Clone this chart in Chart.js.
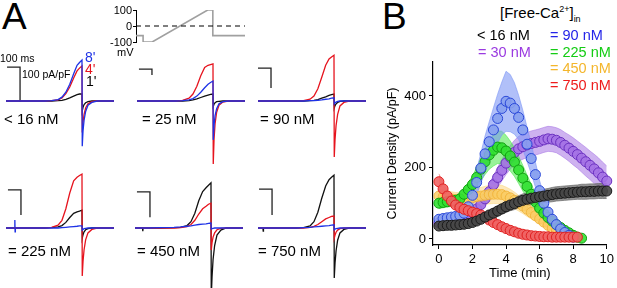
<!DOCTYPE html>
<html>
<head>
<meta charset="utf-8">
<script src="https://cdn.jsdelivr.net/npm/chart.js@4.4.1/dist/chart.umd.min.js"></script>
<style>
body{margin:0;background:#fff;font-family:"Liberation Sans",Arial,sans-serif;}
#wrap{position:relative;width:617px;height:288px;overflow:hidden;background:#fff;}
canvas,.t{position:absolute;}
.t{white-space:nowrap;line-height:1;color:#000;}
sup,sub{font-size:9px;line-height:0;}
</style>
</head>
<body>
<div id="wrap">
<canvas id="vp" width="150" height="50" style="left:100px;top:0px"></canvas>
<canvas id="p1" width="108" height="135" style="left:6px;top:40px"></canvas>
<canvas id="p2" width="108" height="135" style="left:137px;top:40px"></canvas>
<canvas id="p3" width="108" height="135" style="left:258px;top:40px"></canvas>
<canvas id="p4" width="108" height="138" style="left:6px;top:150px"></canvas>
<canvas id="p5" width="108" height="138" style="left:135px;top:150px"></canvas>
<canvas id="p6" width="108" height="138" style="left:258px;top:150px"></canvas>
<canvas id="cb" width="237" height="238" style="left:380px;top:50px"></canvas>

<div class="t" style="left:2px;top:-2px;font-size:37px">A</div>
<div class="t" style="left:382px;top:-2px;font-size:37px">B</div>
<div class="t" style="left:117px;top:47px;font-size:11px">mV</div>
<div class="t" style="left:0px;top:53px;font-size:10.5px">100 ms</div>
<div class="t" style="left:22px;top:69px;font-size:10.5px">100 pA/pF</div>
<div class="t" style="left:85px;top:50px;font-size:14px;color:#1e32e6">8'</div>
<div class="t" style="left:85px;top:62px;font-size:14px;color:#e6141e">4'</div>
<div class="t" style="left:86px;top:74px;font-size:14px">1'</div>
<div class="t" style="left:4px;top:111px;font-size:15px">&lt; 16 nM</div>
<div class="t" style="left:142px;top:111px;font-size:15px">= 25 nM</div>
<div class="t" style="left:260px;top:111px;font-size:15px">= 90 nM</div>
<div class="t" style="left:8px;top:243px;font-size:15px">= 225 nM</div>
<div class="t" style="left:137px;top:243px;font-size:15px">= 450 nM</div>
<div class="t" style="left:258px;top:243px;font-size:15px">= 750 nM</div>

<div class="t" style="left:500px;top:5px;font-size:15px">[Free-Ca<sup>2+</sup>]<sub>in</sub></div>
<div class="t" style="left:477px;top:28px;font-size:14.5px">&lt; 16 nM</div>
<div class="t" style="left:550px;top:28px;font-size:14.5px;color:#2424e8">= 90 nM</div>
<div class="t" style="left:478px;top:45px;font-size:14.5px;color:#9a3ae0">= 30 nM</div>
<div class="t" style="left:550px;top:45px;font-size:14.5px;color:#14cc14">= 225 nM</div>
<div class="t" style="left:550px;top:61px;font-size:14.5px;color:#f4b62c">= 450 nM</div>
<div class="t" style="left:550px;top:78px;font-size:14.5px;color:#ee1c1c">= 750 nM</div>
</div>

<script>
// voltage protocol (ms, mV)
const protoTime = [0, 54, 54, 123, 546, 585, 585, 830];
const protoVolt = [-60, -60, -100, -100, 100, 100, -60, -60];
const voltTicks = [-100, 0, 100];

// current traces, pA/pF, sampled at traceTime (ms)
const traceTime = [0,100,200,300,350,400,430,460,490,520,546,565,584,586,592,600,612,630,660,700,830];
// < 16 nM
const c16_1 = [0,0,0,0,0,1,2,5,9,14,18,20,20,-28,-18,-10,-5,-2,0,0,0];
const c16_4 = [0,0,0,0,1,3,9,21,40,66,86,94,100,-90,-60,-38,-20,-8,-2,0,0];
const c16_8 = [0,0,0,0,1,4,11,25,48,78,102,110,117,-129,-85,-55,-30,-12,-4,0,0];
// = 25 nM
const c25_1 = [0,0,0,0,0,1,3,6,10,14,17,19,20,-15,-9,-5,-2,-1,0,0,0];
const c25_4 = [0,0,0,0,2,8,20,42,72,96,102,104,106,-180,-110,-65,-32,-12,-3,0,0];
const c25_8 = [0,0,0,0,1,3,7,14,25,38,48,53,57,-111,-70,-42,-22,-8,-2,0,0];
// = 90 nM
const c90_1 = [0,0,0,0,0,1,2,4,8,12,16,18,20,-20,-13,-8,-4,-1,0,0,0];
const c90_4 = [0,0,0,0,1,5,14,35,68,102,120,126,131,-160,-110,-70,-38,-14,-4,0,0];
const c90_8 = [0,0,0,0,0,1,1,2,3,5,6,8,9,-8,-5,-3,-1,0,0,0,0];
// = 225 nM
const c225_1 = [0,0,0,0,1,3,7,16,30,42,46,48,51,-29,-19,-11,-5,-2,0,0,0];
const c225_4 = [0,0,0,0,2,8,22,55,100,135,145,150,154,-137,-95,-62,-34,-14,-4,0,0];
const c225_8 = [0,0,0,0,0,0,1,2,3,4,5,6,6,-6,-4,-2,-1,0,0,0,0];
// = 450 nM
const c450_1 = [0,0,0,1,2,7,18,42,78,104,115,122,129,-200,-140,-90,-50,-20,-6,0,0];
const c450_4 = [0,0,0,0,1,4,10,22,40,55,62,68,71,-63,-42,-26,-14,-5,-1,0,0];
const c450_8 = [0,0,1,2,3,5,6,8,10,11,12,13,14,-3,-2,-1,0,0,0,0,0];
// = 750 nM
const c750_1 = [0,0,0,0,1,6,18,45,85,120,138,145,151,-143,-100,-65,-35,-14,-4,0,0];
const c750_4 = [0,0,0,0,0,2,5,10,18,26,30,33,34,-29,-20,-12,-6,-2,0,0,0];
const c750_8 = [0,0,0,0,1,2,3,4,5,6,7,8,9,-5,-3,-2,-1,0,0,0,0];

// scale bars per panel [ms],[pA/pF]
const bar16 = {t:[8,108,108], v:[97,97,-3]};
const bar25 = {t:[15,115,115], v:[91,91,74]};
const bar90 = {t:[0,100,100], v:[94,94,37]};
const bar225 = {t:[15,115,115], v:[109,109,37]};
const bar450 = {t:[15,115,115], v:[103,103,31]};
const bar750 = {t:[8,108,108], v:[111,111,37]};

// time course (min) and current density (pA/pF), mean and s.e.m.
const timeMin = [0,0.25,0.5,0.75,1,1.25,1.5,1.75,2,2.25,2.5,2.75,3,3.25,3.5,3.75,4,4.25,4.5,4.75,5,5.25,5.5,5.75,6,6.25,6.5,6.75,7,7.25,7.5,7.75,8,8.25,8.5,8.75,9,9.25,9.5,9.75,10];
const cd16 = [36,37,38,38,39,40,41,43,46,50,55,61,67,72,78,84,90,95,99,104,108,111,114,116,118,120,122,124,126,127,128,129,130,131,132,132,133,133,134,134,134];
const se16 = [8,8,8,8,8,8,9,9,10,10,11,12,13,14,15,15,16,16,17,17,18,18,18,19,19,19,19,20,20,20,20,20,20,20,21,21,21,21,21,21,21];
const cd30 = [45,46,48,50,52,55,60,66,74,84,96,112,132,152,172,192,212,228,242,252,258,263,267,270,273,277,280,279,276,270,262,254,245,236,226,216,206,196,185,173,162];
const se30 = [10,10,10,10,11,11,12,13,14,15,17,19,22,25,28,30,32,33,34,35,35,35,35,35,35,35,35,35,35,36,36,37,38,38,39,40,40,41,42,42,42];
const cd90 = [55,57,59,61,63,66,72,90,122,158,198,238,272,305,337,365,385,380,365,340,305,265,225,180,135,100,75,55,40,28,18,10,5];
const se90 = [10,10,10,10,11,12,14,20,28,35,42,50,56,62,68,74,84,80,72,62,55,48,42,35,28,22,17,13,10,8,6,4,3];
const cd225 = [100,102,104,106,108,112,125,138,152,172,195,216,235,248,257,255,246,232,215,193,170,147,125,104,86,72,60,50,40,32,24,17,10,5,2];
const se225 = [15,15,15,15,15,16,18,20,24,28,32,36,40,44,46,46,44,42,40,38,36,32,28,24,20,17,14,12,10,8,7,5,4,3,2];
const cd450 = [120,118,115,112,110,109,110,112,115,118,120,122,124,125,125,124,120,115,108,100,92,83,74,65,56,47,38,30,22,15,9];
const se450 = [20,20,20,20,20,20,20,21,22,23,24,25,26,26,26,26,25,24,23,22,21,20,18,16,14,12,10,8,6,5,4];
const cd750 = [160,140,120,106,95,88,83,79,75,71,67,60,53,46,40,34,29,24,20,16,13,11,9,8,7,6,6,5,5,5,5,5,5,5];
const se750 = [22,18,15,13,12,11,10,10,9,9,9,8,8,7,7,6,6,5,5,5,4,4,4,4,3,3,3,3,3,3,3,3,3,3];
const xTicks = [0,2,4,6,8,10];
const yTicks = [0,200,400];

const BLUE = '#1e32e6', RED = '#e6141e', BLACK = '#111';

function xy(t, v){ return v.map((y,i)=>({x:t[i], y:y})); }

function base(scales){
  return {responsive:false, animation:false, devicePixelRatio:1, events:[],
    layout:{padding:0},
    plugins:{legend:{display:false}, tooltip:{enabled:false}},
    elements:{point:{radius:0}, line:{tension:0}},
    scales:scales};
}

// the voltage axis is only 32px tall, Chart.js keeps dropping the "0" label,
// so tick marks + labels are written here from the y scale
const voltAxisLabels = {
  id:'voltAxisLabels',
  afterDraw(chart){
    const s = chart.scales.y, ctx = chart.ctx;
    ctx.save();
    ctx.font = '11px "Liberation Sans"';
    ctx.fillStyle = '#000'; ctx.strokeStyle = '#000'; ctx.lineWidth = 1;
    ctx.textAlign = 'right'; ctx.textBaseline = 'middle';
    voltTicks.forEach(v => {
      const y = Math.round(s.getPixelForValue(v)) + 0.5;
      ctx.beginPath(); ctx.moveTo(s.right - 3, y); ctx.lineTo(s.right, y); ctx.stroke();
      ctx.fillText(String(v), s.right - 4, y);
    });
    ctx.restore();
  }
};

new Chart(document.getElementById('vp'), {
  type:'line',
  data:{datasets:[
    {data:xy([0,830],[0,0]), borderColor:'#000', borderWidth:1.2, borderDash:[5,4]},
    {data:xy(protoTime, protoVolt), borderColor:'#a0a0a0', borderWidth:1.6}
  ]},
  options:Object.assign(base({
    x:{type:'linear', display:false, min:0, max:830},
    y:{min:-100, max:100,
       afterFit:(s)=>{ s.width = 36; },
       ticks:{display:false},
       grid:{display:false},
       border:{display:true, color:'#000', width:1}}
  }), {layout:{padding:{top:10, bottom:8, right:5, left:0}}}),
  plugins:[voltAxisLabels]
});

function tracePanel(id, c1, c4, c8, bar, yMin, yMax, extra){
  const ds = [
    {data:xy(traceTime, c8), borderColor:BLUE, borderWidth:1.3},
    {data:xy(traceTime, c4), borderColor:RED, borderWidth:1.3},
    {data:xy(traceTime, c1), borderColor:BLACK, borderWidth:1.3},
    {data:xy(bar.t, bar.v), borderColor:'#222', borderWidth:1.3}
  ];
  if (extra) ds.push(extra);
  new Chart(document.getElementById(id), {
    type:'line', data:{datasets:ds},
    options:base({x:{type:'linear', display:false, min:0, max:830},
                  y:{display:false, min:yMin, max:yMax}})
  });
}

tracePanel('p1', c16_1, c16_4, c16_8, bar16, -211.4, 174.3);
tracePanel('p2', c25_1, c25_4, c25_8, bar25, -211.4, 174.3);
tracePanel('p3', c90_1, c90_4, c90_8, bar90, -211.4, 174.3);
tracePanel('p4', c225_1, c225_4, c225_8, bar225, -171.4, 222.9,
  {data:xy([66,68,70,72], [0,23,-11,0]), borderColor:BLUE, borderWidth:1.3});
tracePanel('p5', c450_1, c450_4, c450_8, bar450, -171.4, 222.9,
  {data:xy([58,60,62], [0,-9,0]), borderColor:BLACK, borderWidth:1.3});
tracePanel('p6', c750_1, c750_4, c750_8, bar750, -171.4, 222.9,
  {data:xy([38,40,42], [0,-9,0]), borderColor:BLACK, borderWidth:1.3});

// panel B
const seriesB = [];
function addSeries(mean, err, fill, line, band, ord){
  const t = timeMin.slice(0, mean.length);
  seriesB.push({data:xy(t, mean), showLine:false, pointRadius:5, pointBackgroundColor:fill,
                pointBorderColor:line, pointBorderWidth:1, order:ord, clip:false});
  seriesB.push({data:xy(t, mean.map((m,i)=>m+err[i])), borderColor:band, borderWidth:1,
                fill:'+1', backgroundColor:band, order:ord+10});
  seriesB.push({data:xy(t, mean.map((m,i)=>m-err[i])), borderColor:band, borderWidth:1,
                fill:false, order:ord+10});
}
addSeries(cd16, se16, 'rgba(72,72,72,0.92)', '#1a1a1a', 'rgba(110,110,110,0.75)', 0);
addSeries(cd750, se750, 'rgba(240,100,100,0.9)', '#e02020', 'rgba(240,120,120,0.6)', 1);
addSeries(cd90, se90, 'rgba(135,160,240,0.9)', '#2a48d8', 'rgba(125,150,245,0.6)', 2);
addSeries(cd225, se225, 'rgba(50,225,50,0.9)', '#10a010', 'rgba(70,232,70,0.55)', 3);
addSeries(cd450, se450, 'rgba(250,205,100,0.8)', 'rgba(240,175,50,0.8)', 'rgba(252,215,130,0.55)', 4);
addSeries(cd30, se30, 'rgba(165,115,230,0.9)', '#6a30c0', 'rgba(165,115,228,0.55)', 5);

const tickFont = {family:'Liberation Sans', size:13};
new Chart(document.getElementById('cb'), {
  type:'line',
  data:{datasets:seriesB},
  options:Object.assign(base({
    x:{type:'linear', min:-0.35, max:10,
       afterBuildTicks:(s)=>{ s.ticks = xTicks.map(v=>({value:v})); },
       afterFit:(s)=>{ s.height = 43; },
       ticks:{color:'#000', font:tickFont, padding:3, maxRotation:0, autoSkip:false},
       grid:{drawOnChartArea:false, tickLength:4, color:'#000'},
       border:{color:'#000', width:1.2},
       title:{display:true, text:'Time (min)', color:'#000', font:tickFont, padding:{top:0, bottom:7}}},
    y:{min:-17, max:495,
       afterBuildTicks:(s)=>{ s.ticks = yTicks.map(v=>({value:v})); },
       afterFit:(s)=>{ s.width = 53; },
       ticks:{color:'#000', font:tickFont, padding:3, autoSkip:false},
       grid:{drawOnChartArea:false, tickLength:4, color:'#000'},
       border:{color:'#000', width:1.2},
       title:{display:true, text:'Current Density (pA/pF)', color:'#000', font:{family:'Liberation Sans', size:12.5}, padding:{top:5, bottom:0}}}
  }), {layout:{padding:{top:12, right:7, bottom:0, left:0}}})
});
</script>
</body>
</html>
